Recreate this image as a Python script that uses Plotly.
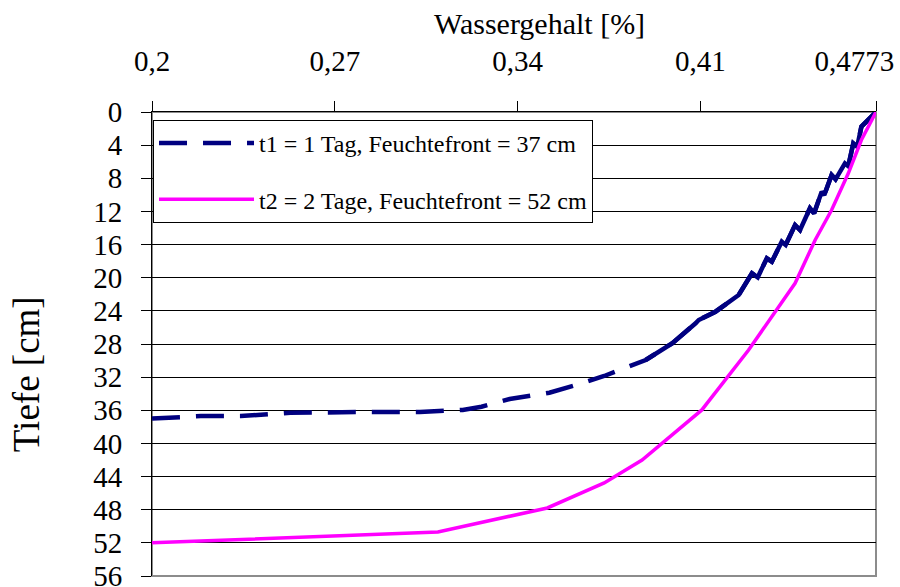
import plotly.graph_objects as go

# Infiltration profiles: water content (Wassergehalt) against depth (Tiefe)
t1_theta = [0.2, 0.2187, 0.234, 0.253, 0.2835, 0.3026, 0.319, 0.3262, 0.337,
            0.3522, 0.3624, 0.3732, 0.3891, 0.3992, 0.4082, 0.4094, 0.4158,
            0.4247, 0.4298, 0.4320, 0.4355, 0.4374, 0.4412, 0.4427, 0.4463,
            0.4482, 0.4520, 0.4536, 0.4565, 0.4575, 0.4603, 0.4618, 0.4654,
            0.4667, 0.4686, 0.4701, 0.4717, 0.4773]
t1_depth = [37.0, 36.7, 36.7, 36.3, 36.2, 36.2, 35.96, 35.57, 34.64,
            33.88, 32.95, 31.86, 29.93, 27.92, 25.50, 25.10, 24.10,
            22.09, 19.47, 19.95, 17.66, 18.07, 15.65, 16.05, 13.64,
            14.24, 11.62, 12.23, 9.62, 10.02, 7.60, 8.12, 6.19,
            6.52, 3.78, 4.19, 1.77, 0.0]

t2_theta = [0.2, 0.3095, 0.3514, 0.3732, 0.3877, 0.3991, 0.4106, 0.4285,
            0.4463, 0.4540, 0.4603, 0.4667, 0.4717, 0.4773]
t2_depth = [52.0, 50.69, 47.79, 44.77, 42.0, 38.98, 35.96, 28.72,
            20.67, 15.45, 11.83, 7.40, 3.38, 0.0]

t1_name = "t1 = 1 Tag, Feuchtefront = 37 cm"
t2_name = "t2 = 2 Tage, Feuchtefront = 52 cm"

x_ticks = [0.2, 0.27, 0.34, 0.41, 0.4773]
x_tick_labels = ["0,2", "0,27", "0,34", "0,41", "0,4773"]
y_ticks = list(range(0, 57, 4))

SERIF = "Liberation Serif"
NAVY = "#000080"
MAGENTA = "#FF00FF"

# the closely spaced points near the surface are drawn as a continuous line
dense_start = next(i for i, d in enumerate(t1_depth) if d < 30.5)

fig = go.Figure()
fig.add_trace(go.Scatter(
    x=t1_theta, y=t1_depth, mode="lines", name=t1_name, legendgroup="t1",
    line=dict(color=NAVY, width=4.5, dash="28px,16px"),
))
fig.add_trace(go.Scatter(
    x=t1_theta[dense_start:], y=t1_depth[dense_start:], mode="lines",
    legendgroup="t1", showlegend=False,
    line=dict(color=NAVY, width=4.5),
))
fig.add_trace(go.Scatter(
    x=t2_theta, y=t2_depth, mode="lines", name=t2_name, legendgroup="t2",
    line=dict(color=MAGENTA, width=3.5),
))

# last tick label is padded on the right so it stays inside the page
labels = x_tick_labels[:-1] + [x_tick_labels[-1] + "\u00a0" * 6]

fig.update_layout(
    width=900, height=587,
    margin=dict(l=152, r=24, t=112, b=11, autoexpand=False),
    paper_bgcolor="white", plot_bgcolor="white",
    font=dict(family=SERIF, color="black"),
    showlegend=True,
    legend=dict(
        x=0.0014, y=0.983, xanchor="left", yanchor="top",
        bgcolor="white", bordercolor="black", borderwidth=1,
        font=dict(family=SERIF, size=24, color="black"),
        tracegroupgap=22, itemwidth=95,
    ),
    xaxis=dict(
        side="top", range=[0.2, 0.4773], automargin=False,
        tickmode="array", tickvals=x_ticks, ticktext=labels,
        ticks="outside", ticklen=10, tickwidth=1, tickcolor="black",
        showline=True, linecolor="black", linewidth=1,
        showgrid=False, zeroline=False,
        tickfont=dict(family=SERIF, size=29, color="black"),
        ticklabelstandoff=18, ticklabeloverflow="allow",
    ),
    yaxis=dict(
        range=[56, 0], automargin=False,
        tickmode="array", tickvals=y_ticks,
        ticks="outside", ticklen=10, tickwidth=1, tickcolor="black",
        showline=True, linecolor="black", linewidth=1,
        showgrid=True, gridcolor="black", gridwidth=1, zeroline=False,
        tickfont=dict(family=SERIF, size=29, color="black"),
        ticklabelstandoff=13, ticklabeloverflow="allow",
    ),
    shapes=[dict(
        type="rect", xref="paper", yref="paper", x0=0, x1=1, y0=0, y1=1,
        line=dict(color="#8c8c8c", width=2), layer="below",
    )],
    annotations=[
        dict(text="Wassergehalt [%]", xref="paper", yref="paper",
             x=0.535, y=1.19, xanchor="center", yanchor="middle",
             showarrow=False, font=dict(family=SERIF, size=30, color="black")),
        dict(text="Tiefe [cm]", xref="paper", yref="paper",
             x=-0.174, y=0.435, xanchor="center", yanchor="middle",
             textangle=-90, showarrow=False,
             font=dict(family=SERIF, size=37, color="black")),
    ],
)

fig.write_html("out.html")
